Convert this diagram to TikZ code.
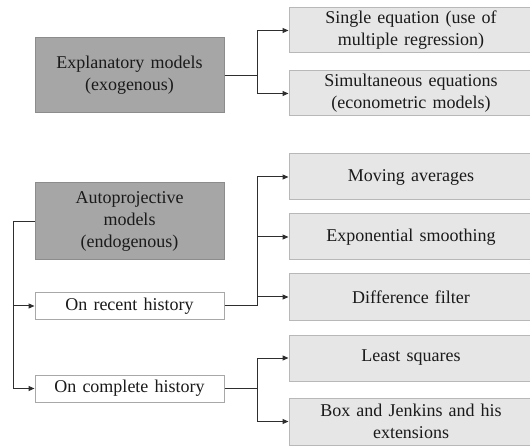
\documentclass[tikz,border=0pt]{standalone}
\usepackage{fontspec}
\setmainfont[WordSpace=1.35]{Liberation Serif}
\usetikzlibrary{arrows.meta}
\definecolor{darkfill}{HTML}{A6A6A6}
\definecolor{darkline}{HTML}{8C8C8C}
\definecolor{lightfill}{HTML}{E7E6E6}
\definecolor{lightline}{HTML}{B8B8B8}
\definecolor{wline}{HTML}{A8A8A8}
\definecolor{conn}{HTML}{2E2E2E}
\definecolor{txt}{HTML}{1A1A1A}
\tikzset{
  base/.style={rectangle, inner sep=0pt, align=center, line width=1pt,
    font=\fontsize{18}{22}\selectfont, text=txt},
  darkbox/.style={base, fill=darkfill, draw=darkline, minimum width=189pt},
  whitebox/.style={base, fill=white, draw=wline, minimum width=189pt},
  rightbox/.style={base, fill=lightfill, draw=lightline, minimum width=244pt},
  link/.style={draw=conn, line width=1pt},
  arr/.style={link, -{Triangle[length=6pt,width=5pt]}}
}
\begin{document}
\begin{tikzpicture}[x=1pt,y=-1pt]
\useasboundingbox (0,0) rectangle (530,446);
\begin{scope}
\clip (0,0) rectangle (530,446);
\node[darkbox, minimum height=75pt] (expl) at (129.5,75.5) {Explanatory models\\(exogenous)};
\node[darkbox, minimum height=77pt] (auto) at (129.5,221.5) {Autoprojective\\models\\(endogenous)};
\node[whitebox, minimum height=26pt] (recent) at (129.5,306) {On recent history};
\node[whitebox, minimum height=27pt] (complete) at (129.5,388.5) {On complete history};

\node[rightbox, minimum height=45pt] (single) at (411,30.5) {Single equation (use of\\multiple regression)};
\node[rightbox, minimum height=45pt] (simul) at (411,93.5) {Simultaneous equations\\(econometric models)};
\node[rightbox, minimum height=46pt] (moving) at (411,177) {Moving averages};
\node[rightbox, minimum height=46pt] (expo) at (411,237) {Exponential smoothing};
\node[rightbox, minimum height=46pt] (diff) at (411,297) {Difference filter};
\node[rightbox, minimum height=46pt] (least) at (411,358) {Least squares};
\node[rightbox, minimum height=47pt] (boxj) at (411,421.5) {Box and Jenkins and his\\extensions};
\end{scope}

% explanatory branch
\coordinate (j1) at (257,75.5);
\draw[link] (expl.east) -- (j1);
\draw[arr] (j1) |- (single.west);
\draw[arr] (j1) |- (simul.west);

% autoprojective left branch
\coordinate (jl) at (13,221.5);
\draw[link] (auto.west) -- (jl);
\draw[arr] (jl) |- (recent.west);
\draw[arr] (jl) |- (complete.west);

% recent history branch
\coordinate (jr) at (257,306);
\draw[link] (recent.east) -- (jr);
\draw[arr] (jr) |- (moving.west);
\draw[arr] (jr) |- (expo.west);
\draw[arr] (jr) |- (diff.west);

% complete history branch
\coordinate (jc) at (257,388.5);
\draw[link] (complete.east) -- (jc);
\draw[arr] (jc) |- (least.west);
\draw[arr] (jc) |- (boxj.west);
\end{tikzpicture}
\end{document}
